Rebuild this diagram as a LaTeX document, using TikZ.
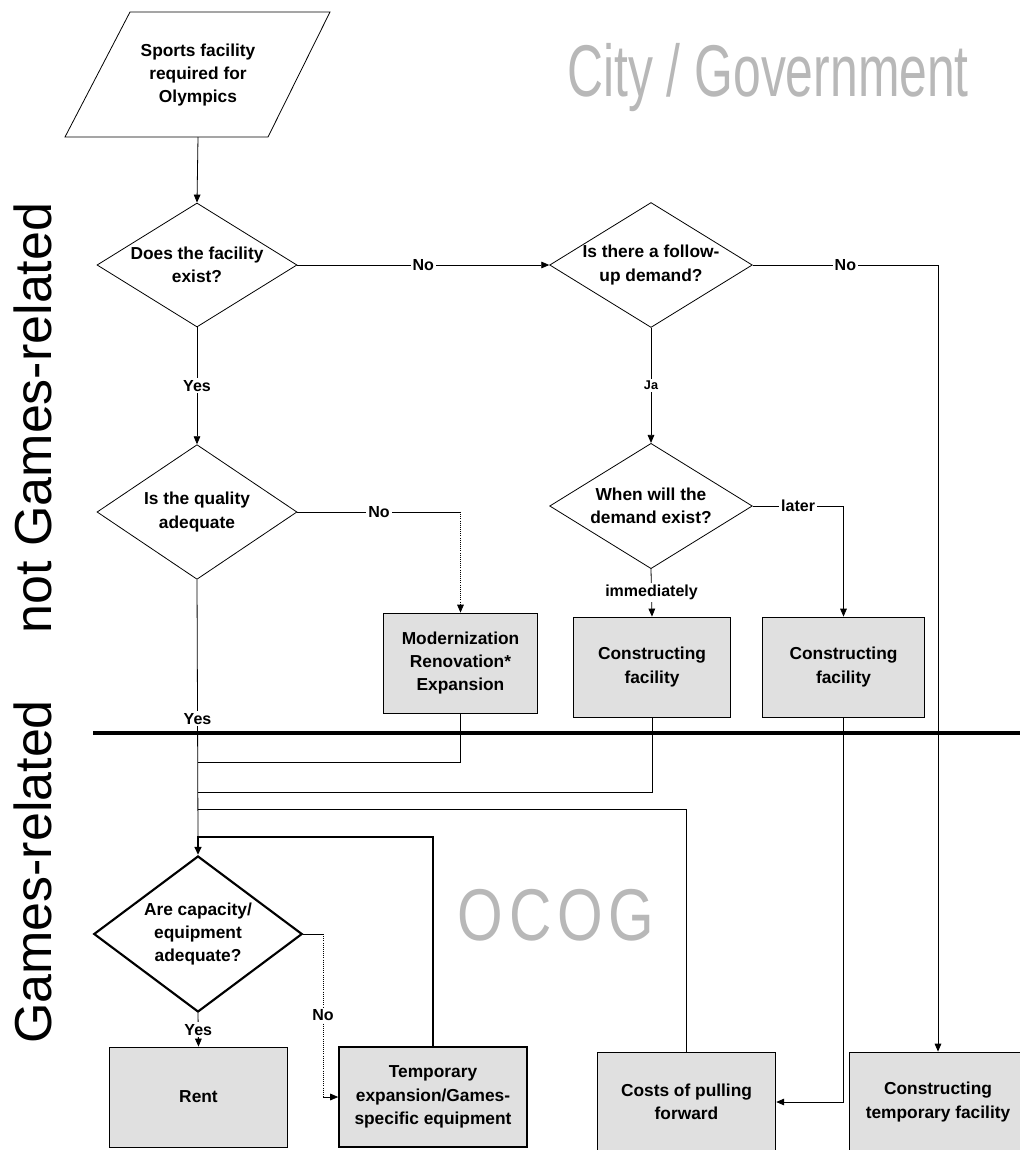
\documentclass[tikz,border=0pt]{standalone}
\usepackage{fontspec}
\setmainfont{Liberation Sans}
\newfontfamily\watermarkfont[FakeStretch=0.68]{Liberation Sans}
\newfontfamily\ocogfont[FakeStretch=0.8]{Liberation Sans}
\usetikzlibrary{arrows.meta,shapes.geometric}

\newcommand{\boxfont}{\bfseries\fontsize{13}{17.5}\selectfont}
\newcommand{\answerfont}{\bfseries\fontsize{12}{14}\selectfont}

\begin{document}
\begin{tikzpicture}[x=0.75pt, y=-0.75pt]
	% Styles for the elements
	\tikzstyle{decision}	= [diamond, draw, line width=0.6pt, aspect=1.6, inner sep=0pt, align=center, font=\boxfont, minimum width=150pt, minimum height=93pt]
	\tikzstyle{activity}	= [rectangle, draw, line width=0.6pt, fill=black!12, align=center, font=\boxfont, minimum height=75pt]
	\tikzstyle{answer}		= [fill=white, inner sep=1.5pt, font=\answerfont]
	\tikzstyle{flow}		= [line width=0.6pt]
	\tikzstyle{arrow}		= [flow, -{Triangle[length=6pt, width=5pt]}]
	\tikzstyle{feedback}	= [line width=1.6pt, -{Triangle[length=6pt, width=5pt]}]
	\tikzstyle{region}		= [rotate=90, font=\fontsize{39}{44}\selectfont]
	\tikzstyle{watermark}	= [text=black!28, font=\watermarkfont\fontsize{55}{60}\selectfont]

	\useasboundingbox (0,0) rectangle (1020,1150);

	% Background texts
	\node[watermark, anchor=base]	(city_label)	at (768,96)		{City / Government};
	\node[watermark, anchor=base, font=\ocogfont\fontsize{55}{60}\selectfont]	(ocog_label)	at (556,940)	{\addfontfeature{LetterSpace=8}OCOG};
	\node[region]	(not_games_label)	at (33,418)	{not Games-related};
	\node[region]	(games_label)		at (33,872)	{Games-related};

	% Start
	\node[align=center, font=\boxfont]	(start_text)	at (198,75)	{Sports facility\\required for\\Olympics};
	\draw[flow] (65,137) -- (130,12) -- (330,12) -- (268,137) -- cycle;
	\coordinate (start_bottom) at (198,137);

	% Questions
	\node[decision]								(exist_question)	at (197,265)	{Does the facility\\exist?};
	\node[decision, minimum width=152pt]		(followup_question)	at (651,265)	{Is there a follow-\\up demand?};
	\node[decision, minimum height=101pt]		(quality_question)	at (197,512)	{Is the quality\\adequate};
	\node[decision, minimum width=152pt, minimum height=94pt]	(when_question)	at (651,506)	{When will the\\demand exist?};
	\node[decision, line width=1.6pt, minimum height=117pt]	(capacity_question)	at (198,934)	{Are capacity/\\equipment\\adequate?};

	% Boxes, not Games-related
	\node[activity, minimum width=116pt]	(modernization)		at (460.5,663)	{Modernization\\Renovation*\\Expansion};
	\node[activity, minimum width=118pt]	(construct_now)		at (652,667)	{Constructing\\facility};
	\node[activity, minimum width=121pt]	(construct_later)	at (843.5,667)	{Constructing\\facility};

	% Boxes, Games-related
	\node[activity, minimum width=133pt]	(rent)					at (198.5,1097)	{Rent};
	\node[activity, minimum width=141pt, line width=1.2pt]	(temporary_expansion)	at (433,1097)	{Temporary\\expansion/Games-\\specific equipment};
	\node[activity, minimum width=134pt]	(pulling_costs)			at (686.5,1102)	{Costs of pulling\\forward};
	\node[activity, minimum width=133.5pt]	(temporary_facility)	at (938,1102)	{Constructing\\temporary facility};

	% Border between the two parts
	\draw[line width=3.4pt] (93,733) -- (1020,733);

	% Arrows, upper part
	\draw[arrow] (start_bottom) -- (exist_question.north);
	\draw[arrow] (exist_question.east) -- node[answer] {No} (followup_question.west);
	\draw[arrow] (followup_question.east) -- node[answer] {No} (followup_question.east -| temporary_facility.north) -- (temporary_facility.north);
	\draw[arrow] (exist_question.south) -- node[answer] {Yes} (quality_question.north);
	\draw[flow] (quality_question.east) -- node[answer] {No} (quality_question.east -| modernization.north);
	\draw[arrow, densely dotted] (quality_question.east -| modernization.north) -- (modernization.north);
	\draw[arrow] (followup_question.south) -- node[answer, font=\bfseries\fontsize{9.5}{11}\selectfont] {Ja} (when_question.north);
	\draw[arrow] (when_question.east) -- node[answer] {later} (when_question.east -| construct_later.north) -- (construct_later.north);
	\draw[arrow] (when_question.south) -- node[answer] {immediately} (construct_now.north);

	% Joins into the Games-related part
	\coordinate (join_modern)	at (198,762);
	\coordinate (join_now)		at (198,792);
	\coordinate (join_costs)	at (198,809);
	\coordinate (loop_corner)	at (198,837);
	\draw[flow] (quality_question.south) -- node[answer, pos=0.54] {Yes} (loop_corner);
	\draw[flow] (modernization.south) |- (join_modern);
	\draw[flow] (construct_now.south) |- (join_now);
	\draw[flow] (pulling_costs.north) |- (join_costs);
	\draw[arrow] (construct_later.south) |- (pulling_costs.east);
	\draw[feedback] (temporary_expansion.north) |- (loop_corner) -- (capacity_question.north);

	% Arrows, lower part
	\draw[arrow] (capacity_question.south) -- node[answer] {Yes} (rent.north);
	\coordinate (no_corner) at (323,934);
	\coordinate (no_bottom) at (323,1097);
	\draw[flow] (capacity_question.east) -- (no_corner);
	\draw[flow, densely dotted] (no_corner) -- node[answer] {No} (no_bottom);
	\draw[arrow] (no_bottom) -- (temporary_expansion.west);
\end{tikzpicture}
\end{document}
